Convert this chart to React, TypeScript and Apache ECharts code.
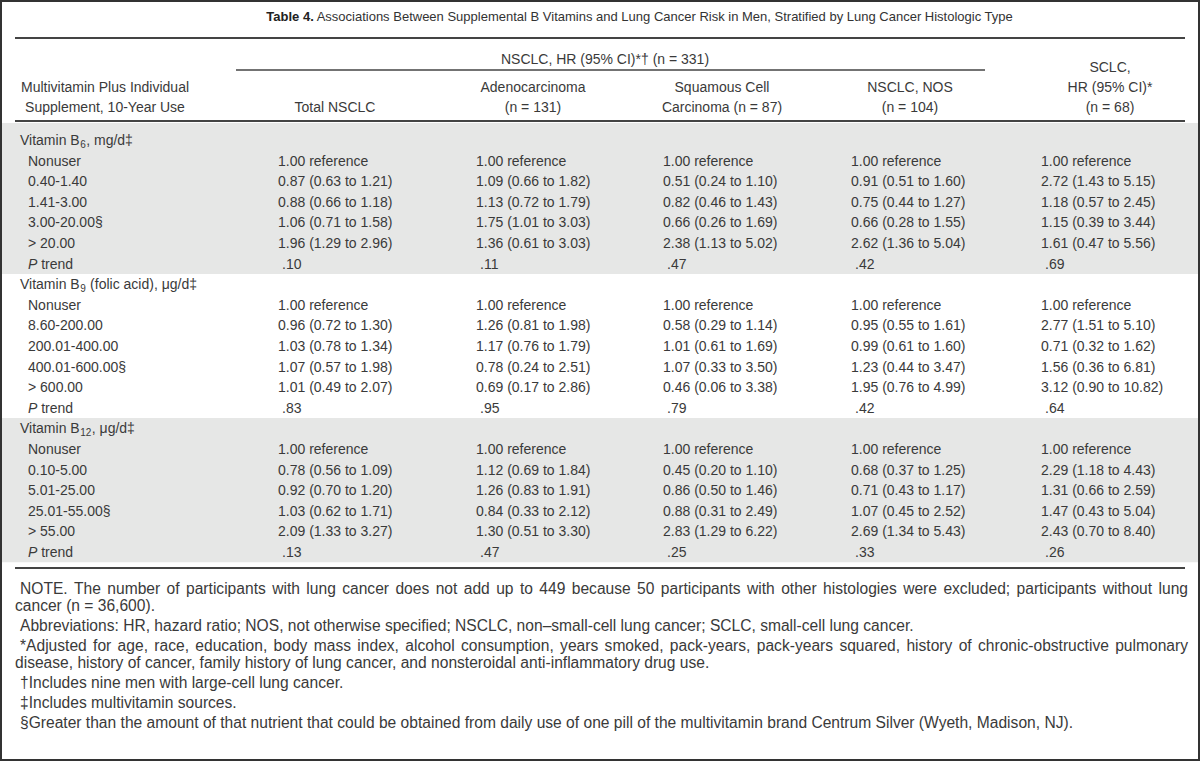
import React, { useEffect, useRef } from "react";
import * as echarts from "echarts";

// ---------- DATA ----------
const titleBold = "Table 4.";
const titleRest =
  " Associations Between Supplemental B Vitamins and Lung Cancer Risk in Men, Stratified by Lung Cancer Histologic Type";
const spanHeader = "NSCLC, HR (95% CI)*† (n = 331)";
const stubHeader = ["Multivitamin Plus Individual", "Supplement, 10-Year Use"];
const columnHeaders = [
  ["Total NSCLC"],
  ["Adenocarcinoma", "(n = 131)"],
  ["Squamous Cell", "Carcinoma (n = 87)"],
  ["NSCLC, NOS", "(n = 104)"],
  ["SCLC,", "HR (95% CI)*", "(n = 68)"],
];

const vitaminNames = ["Vitamin B", "Vitamin B", "Vitamin B"];
const vitaminSubscripts = ["6", "9", "12"];
const vitaminUnits = [", mg/d‡", " (folic acid), μg/d‡", ", μg/d‡"];

const b6Doses = ["Nonuser", "0.40-1.40", "1.41-3.00", "3.00-20.00§", "> 20.00"];
const b9Doses = ["Nonuser", "8.60-200.00", "200.01-400.00", "400.01-600.00§", "> 600.00"];
const b12Doses = ["Nonuser", "0.10-5.00", "5.01-25.00", "25.01-55.00§", "> 55.00"];

const b6Values = [
  ["1.00 reference", "1.00 reference", "1.00 reference", "1.00 reference", "1.00 reference"],
  ["0.87 (0.63 to 1.21)", "1.09 (0.66 to 1.82)", "0.51 (0.24 to 1.10)", "0.91 (0.51 to 1.60)", "2.72 (1.43 to 5.15)"],
  ["0.88 (0.66 to 1.18)", "1.13 (0.72 to 1.79)", "0.82 (0.46 to 1.43)", "0.75 (0.44 to 1.27)", "1.18 (0.57 to 2.45)"],
  ["1.06 (0.71 to 1.58)", "1.75 (1.01 to 3.03)", "0.66 (0.26 to 1.69)", "0.66 (0.28 to 1.55)", "1.15 (0.39 to 3.44)"],
  ["1.96 (1.29 to 2.96)", "1.36 (0.61 to 3.03)", "2.38 (1.13 to 5.02)", "2.62 (1.36 to 5.04)", "1.61 (0.47 to 5.56)"],
];
const b6PTrend = [".10", ".11", ".47", ".42", ".69"];

const b9Values = [
  ["1.00 reference", "1.00 reference", "1.00 reference", "1.00 reference", "1.00 reference"],
  ["0.96 (0.72 to 1.30)", "1.26 (0.81 to 1.98)", "0.58 (0.29 to 1.14)", "0.95 (0.55 to 1.61)", "2.77 (1.51 to 5.10)"],
  ["1.03 (0.78 to 1.34)", "1.17 (0.76 to 1.79)", "1.01 (0.61 to 1.69)", "0.99 (0.61 to 1.60)", "0.71 (0.32 to 1.62)"],
  ["1.07 (0.57 to 1.98)", "0.78 (0.24 to 2.51)", "1.07 (0.33 to 3.50)", "1.23 (0.44 to 3.47)", "1.56 (0.36 to 6.81)"],
  ["1.01 (0.49 to 2.07)", "0.69 (0.17 to 2.86)", "0.46 (0.06 to 3.38)", "1.95 (0.76 to 4.99)", "3.12 (0.90 to 10.82)"],
];
const b9PTrend = [".83", ".95", ".79", ".42", ".64"];

const b12Values = [
  ["1.00 reference", "1.00 reference", "1.00 reference", "1.00 reference", "1.00 reference"],
  ["0.78 (0.56 to 1.09)", "1.12 (0.69 to 1.84)", "0.45 (0.20 to 1.10)", "0.68 (0.37 to 1.25)", "2.29 (1.18 to 4.43)"],
  ["0.92 (0.70 to 1.20)", "1.26 (0.83 to 1.91)", "0.86 (0.50 to 1.46)", "0.71 (0.43 to 1.17)", "1.31 (0.66 to 2.59)"],
  ["1.03 (0.62 to 1.71)", "0.84 (0.33 to 2.12)", "0.88 (0.31 to 2.49)", "1.07 (0.45 to 2.52)", "1.47 (0.43 to 5.04)"],
  ["2.09 (1.33 to 3.27)", "1.30 (0.51 to 3.30)", "2.83 (1.29 to 6.22)", "2.69 (1.34 to 5.43)", "2.43 (0.70 to 8.40)"],
];
const b12PTrend = [".13", ".47", ".25", ".33", ".26"];

const pTrendItalic = "P";
const pTrendRest = " trend";

const footnotes = [
  [
    "NOTE. The number of participants with lung cancer does not add up to 449 because 50 participants with other histologies were excluded; participants without lung",
    "cancer (n = 36,600).",
  ],
  ["Abbreviations: HR, hazard ratio; NOS, not otherwise specified; NSCLC, non–small-cell lung cancer; SCLC, small-cell lung cancer."],
  [
    "*Adjusted for age, race, education, body mass index, alcohol consumption, years smoked, pack-years, pack-years squared, history of chronic-obstructive pulmonary",
    "disease, history of cancer, family history of lung cancer, and nonsteroidal anti-inflammatory drug use.",
  ],
  ["†Includes nine men with large-cell lung cancer."],
  ["‡Includes multivitamin sources."],
  ["§Greater than the amount of that nutrient that could be obtained from daily use of one pill of the multivitamin brand Centrum Silver (Wyeth, Madison, NJ)."],
];

// ---------- LAYOUT ----------
const W = 1200;
const H = 761;
const FAMILY = '"Liberation Sans", Arial, sans-serif';
const FS = 14;
const FS_TITLE = 13;
const FS_NOTE = 15.6;
const TEXT = "#3a3a3a";
const RULE = "#444";
const BAND = "#e6e7e6";
const colLeft = [278, 476, 663, 851, 1041];
const colCenter = [335, 533, 722, 910, 1110];
const rowTop = 140;
const rowH = 20.6;
const noteRight = 1188;

function font(size: number, weight = "normal", style = "normal") {
  return `${style} ${weight} ${size}px ${FAMILY}`;
}

let ctx: CanvasRenderingContext2D | null = null;
function measure(t: string, f: string) {
  if (!ctx) ctx = document.createElement("canvas").getContext("2d");
  ctx!.font = f;
  return ctx!.measureText(t).width;
}

function txt(text: string, x: number, y: number, opts: any = {}) {
  return {
    type: "text",
    x,
    y,
    silent: true,
    style: {
      text,
      fill: opts.fill || TEXT,
      font: opts.font || font(FS),
      textAlign: opts.align || "left",
      textVerticalAlign: "middle",
    },
  };
}

function hline(x1: number, x2: number, y: number, w = 2) {
  return {
    type: "line",
    silent: true,
    shape: { x1, y1: y, x2, y2: y },
    style: { stroke: RULE, lineWidth: w },
  };
}

function buildElements() {
  const els: any[] = [];
  const rowY = (i: number) => rowTop + i * rowH;

  // bands
  els.push({ type: "rect", silent: true, shape: { x: 2, y: 123, width: W - 4, height: rowY(6) + rowH / 2 - 123 }, style: { fill: BAND } });
  els.push({ type: "rect", silent: true, shape: { x: 2, y: rowY(14) - rowH / 2, width: W - 4, height: rowH * 7 }, style: { fill: BAND } });

  // title
  const fb = font(FS_TITLE, "bold");
  const fnT = font(FS_TITLE);
  const wb = measure(titleBold, fb);
  const wr = measure(titleRest, fnT);
  const tx = 640 - (wb + wr) / 2;
  els.push(txt(titleBold, tx, 16, { font: fb, fill: "#222" }));
  els.push(txt(titleRest, tx + wb, 16, { font: fnT, fill: "#333" }));
  els.push(hline(15, 1185, 38, 2));

  // span header
  els.push(txt(spanHeader, 605, 59, { align: "center" }));
  els.push(hline(236, 985, 70, 1.5));

  // stub header
  const fn = font(FS);
  els.push(txt(stubHeader[0], 105, 87, { align: "center" }));
  els.push(txt(stubHeader[1], 105, 107, { align: "center" }));

  columnHeaders.forEach((lines, c) => {
    lines.forEach((line, k) => {
      const y = 107 - (lines.length - 1 - k) * 20;
      els.push(txt(line, colCenter[c], y, { align: "center" }));
    });
  });
  els.push(hline(15, 1185, 121, 2));

  // body
  const sections = [
    { doses: b6Doses, values: b6Values, p: b6PTrend },
    { doses: b9Doses, values: b9Values, p: b9PTrend },
    { doses: b12Doses, values: b12Values, p: b12PTrend },
  ];
  let r = 0;
  sections.forEach((sec, s) => {
    const y0 = rowY(r);
    const wName = measure(vitaminNames[s], fn);
    const fsub = font(10);
    const wSub = measure(vitaminSubscripts[s], fsub);
    els.push(txt(vitaminNames[s], 20, y0));
    els.push(txt(vitaminSubscripts[s], 20 + wName + 0.5, y0 + 4, { font: fsub }));
    els.push(txt(vitaminUnits[s], 20 + wName + wSub + 1, y0));
    r++;
    sec.doses.forEach((d, i) => {
      const y = rowY(r);
      els.push(txt(d, 28, y));
      sec.values[i].forEach((v, c) => els.push(txt(v, colLeft[c], y)));
      r++;
    });
    const yp = rowY(r);
    const fi = font(FS, "normal", "italic");
    const wp = measure(pTrendItalic, fi);
    els.push(txt(pTrendItalic, 28, yp, { font: fi }));
    els.push(txt(pTrendRest, 28 + wp, yp));
    sec.p.forEach((v, c) => els.push(txt(v, colLeft[c] + 4, yp)));
    r++;
  });

  els.push(hline(15, 1185, 568, 2));

  // footnotes (justified except the last line of each paragraph)
  let fy = 588;
  const fnote = font(FS_NOTE);
  footnotes.forEach((para) => {
    para.forEach((line, k) => {
      const x0 = k === 0 ? 20 : 15;
      if (k < para.length - 1) {
        const words = line.split(" ");
        const widths = words.map((w) => measure(w, fnote));
        const sum = widths.reduce((a, b) => a + b, 0);
        const gap = (noteRight - x0 - sum) / (words.length - 1);
        let x = x0;
        words.forEach((w, i) => {
          els.push(txt(w, x, fy, { font: fnote }));
          x += widths[i] + gap;
        });
      } else {
        els.push(txt(line, x0, fy, { font: fnote }));
      }
      fy += 17;
    });
    fy += 3;
  });

  // outer border
  els.push({ type: "rect", silent: true, shape: { x: 1, y: 1, width: W - 2, height: H - 2 }, style: { fill: "none", stroke: "#333", lineWidth: 2 } });
  return els;
}

export default function App() {
  const ref = useRef<HTMLDivElement>(null);
  useEffect(() => {
    document.body.style.margin = "0";
    const chart = echarts.init(ref.current!, null, { renderer: "svg" });
    chart.setOption({
      animation: false,
      backgroundColor: "#ffffff",
      graphic: { elements: buildElements() },
    });
    return () => chart.dispose();
  }, []);
  return <div ref={ref} style={{ width: W, height: H, position: "absolute", left: 0, top: 0 }} />;
}
